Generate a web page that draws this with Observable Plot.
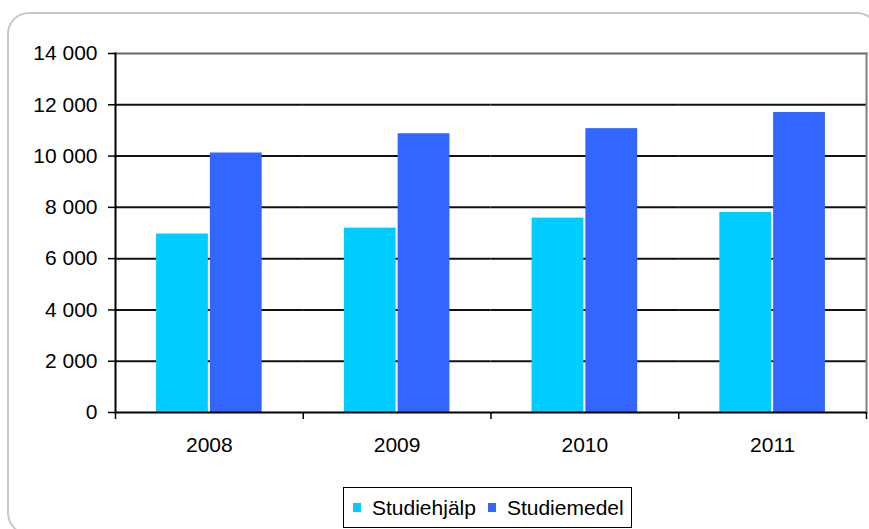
<!DOCTYPE html>
<html><head><meta charset="utf-8">
<script src="https://cdn.jsdelivr.net/npm/d3@7"></script>
<script src="https://cdn.jsdelivr.net/npm/@observablehq/plot@0.6"></script>
<style>
html,body{margin:0;padding:0;background:#fff;overflow:hidden;width:869px;height:529px;}
#wrap{position:relative;width:869px;height:529px;overflow:hidden;font-family:"Liberation Sans",Arial,sans-serif;}
#border{position:absolute;left:7px;top:12px;width:872px;height:523px;border:2px solid #c8c8c8;border-radius:22px;box-sizing:border-box;}
#chart{position:absolute;left:0;top:0;}
#legend{position:absolute;left:343px;top:487px;width:289px;height:41px;border:1.5px solid #000;box-sizing:border-box;display:flex;align-items:center;padding-left:9px;font-size:21px;color:#000;background:#fff;}
#legend .sw{display:inline-block;width:8px;height:9px;margin-right:11px;}
#legend .it{display:flex;align-items:center;}
#legend .it + .it{margin-left:12px;}
</style>
</head><body>
<div id="wrap"><div id="border"></div><div id="chart"></div><div id="legend"></div></div>
<script>
const years = ["2008", "2009", "2010", "2011"];
const series = ["Studiehjälp", "Studiemedel"];
const studiehjalp = [6960, 7190, 7580, 7800];
const studiemedel = [10120, 10870, 11070, 11700];
const yTicks = [0, 2000, 4000, 6000, 8000, 10000, 12000, 14000];
const colors = ["#00CCFF", "#3366FF"];

const data = years.flatMap((y, i) => [
  {year: y, series: series[0], value: studiehjalp[i]},
  {year: y, series: series[1], value: studiemedel[i]}
]);
const fmt = d => d3.format(",")(d).replace(/,/g, " ");

const W = 869, H = 470, mL = 115, mR = 3, mT = 53, mB = 58;
const step = (W - mL - mR) / years.length;

const chart = Plot.plot({
  width: W, height: H,
  marginTop: mT, marginBottom: mB, marginLeft: mL, marginRight: mR,
  style: {fontFamily: "'Liberation Sans', Arial, sans-serif", fontSize: "21px", color: "#000", background: "transparent", overflow: "visible"},
  fx: {domain: years, padding: 0, round: false, label: null, axis: null},
  x: {domain: series, paddingInner: 0, paddingOuter: 0.745, round: false, axis: null},
  y: {domain: [0, 14000], label: null, axis: null},
  color: {domain: series, range: colors},
  marks: [
    Plot.ruleY(yTicks.filter(d => d > 0 && d < 14000), {stroke: "#111", strokeWidth: 2}),
    Plot.frame({anchor: "top", stroke: "#666", strokeWidth: 2, facet: "super"}),
    Plot.frame({anchor: "right", stroke: "#808080", strokeWidth: 2, facet: "super"}),
    Plot.barY(data, {fx: "year", x: "series", y: "value", fill: "series", insetLeft: 1, insetRight: 1}),
    Plot.frame({anchor: "left", stroke: "#000", strokeWidth: 2, facet: "super"}),
    Plot.ruleY([0], {stroke: "#000", strokeWidth: 2}),
    Plot.axisY({ticks: yTicks, tickFormat: fmt, tickSize: 7, tickPadding: 11, label: null, strokeWidth: 1.5}),
    Plot.axisFx({anchor: "bottom", tickSize: 0, tickPadding: 25, label: null}),
    Plot.axisFx({anchor: "bottom", tickSize: 7, tickFormat: () => "", label: null, dx: -step / 2, strokeWidth: 1.5}),
    Plot.axisFx({anchor: "bottom", ticks: [years[years.length - 1]], tickSize: 7, tickFormat: () => "", label: null, dx: step / 2, strokeWidth: 1.5})
  ]
});
document.getElementById("chart").appendChild(chart);

const legend = document.getElementById("legend");
series.forEach((s, i) => {
  const it = document.createElement("div");
  it.className = "it";
  const sw = document.createElement("span");
  sw.className = "sw";
  sw.style.background = colors[i];
  const tx = document.createElement("span");
  tx.textContent = s;
  it.appendChild(sw); it.appendChild(tx);
  legend.appendChild(it);
});
</script>
</body></html>
